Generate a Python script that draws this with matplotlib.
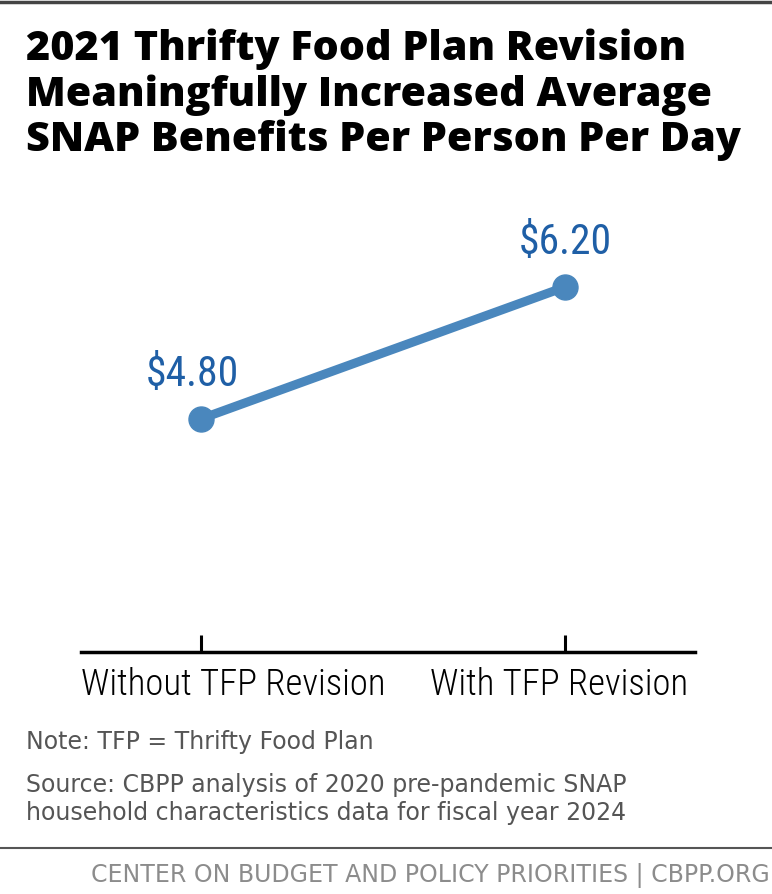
import matplotlib
matplotlib.use("Agg")
import matplotlib.pyplot as plt
import matplotlib.lines as mlines

# data
categories = ["Without TFP Revision", "With TFP Revision"]
values = [4.80, 6.20]
value_labels = ["$4.80", "$6.20"]

title_lines = [
    "2021 Thrifty Food Plan Revision",
    "Meaningfully Increased Average",
    "SNAP Benefits Per Person Per Day",
]
note = "Note: TFP = Thrifty Food Plan"
source_lines = [
    "Source: CBPP analysis of 2020 pre-pandemic SNAP",
    "household characteristics data for fiscal year 2024",
]
footer = "CENTER ON BUDGET AND POLICY PRIORITIES | CBPP.ORG"

W, H = 772, 894
DPI = 100

title_font = ["Open Sans", "DejaVu Sans"]
body_font = ["DejaVu Sans"]
cond_font = ["Roboto Condensed", "Liberation Sans Narrow", "Roboto", "DejaVu Sans"]

line_blue = "#4a87bd"
label_blue = "#1f5fa6"


def fy(px):
    # pixel from top -> figure fraction
    return 1 - px / H


def fx(px):
    return px / W


fig = plt.figure(figsize=(W / DPI, H / DPI), dpi=DPI)
fig.patch.set_facecolor("white")

# top and bottom rules
fig.add_artist(mlines.Line2D([0, 1], [fy(1.5), fy(1.5)], color="#444444", lw=2.5,
                             transform=fig.transFigure))
fig.add_artist(mlines.Line2D([0, 1], [fy(848), fy(848)], color="#555555", lw=1.5,
                             transform=fig.transFigure))

# title
for line, base in zip(title_lines, [60, 106, 151]):
    fig.text(fx(26), fy(base), line, fontsize=29.7, fontweight="heavy",
             family=title_font, color="black", va="baseline", ha="left")

# axes: bottom spine at y=652px, from x=81 to 695px
ax_left, ax_right, ax_top, ax_bottom = 81, 695, 220, 652
ax = fig.add_axes([fx(ax_left), fy(ax_bottom), fx(ax_right - ax_left),
                   (ax_bottom - ax_top) / H])

x = list(range(len(categories)))
ax.plot(x, values, color=line_blue, lw=6.5, marker="o", markersize=18,
        solid_capstyle="round", zorder=3)

px_per_x = 364.5
ax.set_xlim(-(200.5 - ax_left) / px_per_x, 1 + (ax_right - 565) / px_per_x)
px_per_y = (419 - 287) / (values[1] - values[0])
ax.set_ylim(values[0] - (ax_bottom - 419) / px_per_y, values[1] + (287 - ax_top) / px_per_y)

for i, (v, lab) in enumerate(zip(values, value_labels)):
    dx = -6 if i == 0 else 0
    ax.annotate(lab, (i, v), xytext=(dx, 23.5), textcoords="offset points",
                ha="center", va="baseline", fontsize=30, family=cond_font,
                color=label_blue)

for s in ["top", "left", "right"]:
    ax.spines[s].set_visible(False)
ax.spines["bottom"].set_linewidth(2.5)
ax.spines["bottom"].set_color("black")
ax.set_yticks([])
ax.set_xticks(x)
ax.set_xticklabels([])
ax.tick_params(axis="x", direction="in", length=12.5, width=2.2, color="black")
ax.patch.set_alpha(0)

# category labels (kept inside the axis line, as in the original)
lab_y = -(695 - ax_bottom) / (ax_bottom - ax_top)
ax.text(0, lab_y, categories[0], transform=ax.transAxes, ha="left", va="baseline",
        fontsize=26.5, fontweight="light", family=cond_font, color="black")
ax.text((688 - ax_left) / (ax_right - ax_left), lab_y, categories[1],
        transform=ax.transAxes, ha="right", va="baseline",
        fontsize=26.5, fontweight="light", family=cond_font, color="black")

# notes
fig.text(fx(26), fy(749), note, fontsize=17, family=body_font, color="#555555",
         va="baseline", ha="left")
for line, base in zip(source_lines, [792, 820]):
    fig.text(fx(26), fy(base), line, fontsize=17, family=body_font, color="#555555",
             va="baseline", ha="left")

# footer
fig.text(fx(770), fy(882), footer, fontsize=17, family=body_font,
         color="#8c8c8c", va="baseline", ha="right")

fig.savefig("out.png", dpi=DPI, facecolor="white")
